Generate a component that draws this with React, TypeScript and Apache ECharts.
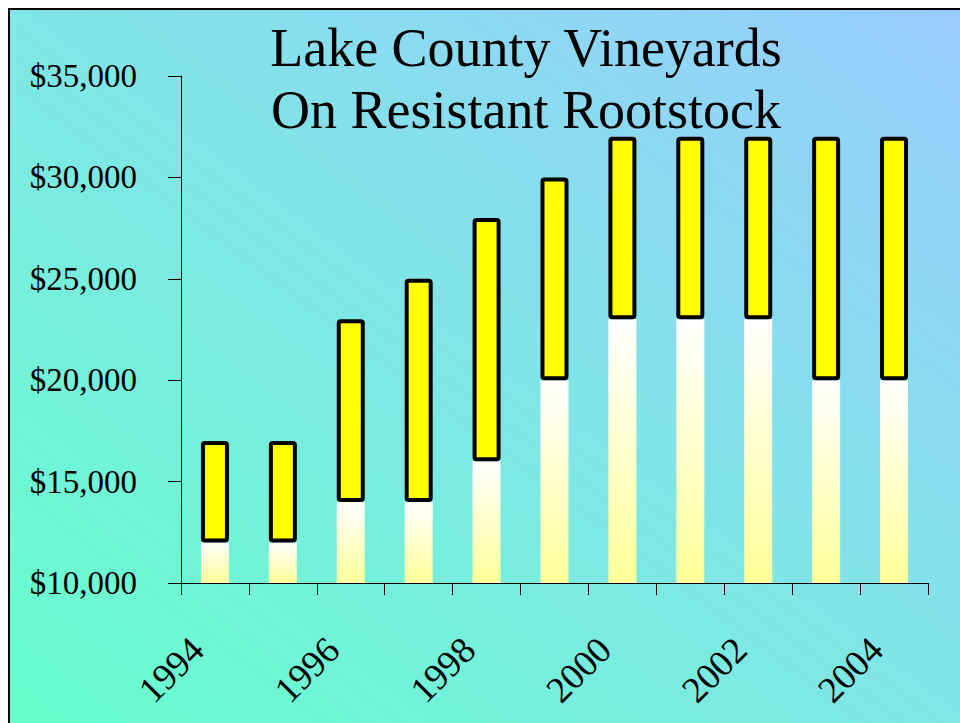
import React, { useEffect, useRef } from "react";
import * as echarts from "echarts";

const YEARS = ["1994", "1995", "1996", "1997", "1998", "1999", "2000", "2001", "2002", "2003", "2004"];
const LOW = [12000, 12000, 14000, 14000, 16000, 20000, 23000, 23000, 23000, 20000, 20000];
const HIGH = [17000, 17000, 23000, 25000, 28000, 30000, 32000, 32000, 32000, 32000, 32000];
const Y_MIN = 10000;
const Y_MAX = 35000;
const Y_STEP = 5000;
const TITLE = "Lake County Vineyards\nOn Resistant Rootstock";

const FONT = '"Liberation Serif", "Times New Roman", serif';

export default function App() {
  const ref = useRef<HTMLDivElement>(null);
  useEffect(() => {
    if (!ref.current) return;
    const chart = echarts.init(ref.current, undefined, { renderer: "svg" });
    const base = YEARS.map(() => Y_MIN);
    const lowPart = LOW.map((v) => v - Y_MIN);
    const highPart = HIGH.map((v, i) => v - LOW[i]);
    chart.setOption({
      animation: false,
      backgroundColor: new echarts.graphic.LinearGradient(0, 1, 1, 0, [
        { offset: 0, color: "#66FFCC" },
        { offset: 1, color: "#99CCFF" },
      ]),
      grid: { left: 171, right: 32, top: 66, bottom: 140, containLabel: false },
      graphic: [
        {
          type: "text",
          x: 516,
          y: 7,
          silent: true,
          style: {
            text: TITLE,
            align: "center",
            verticalAlign: "top",
            fontFamily: FONT,
            fontSize: 54,
            lineHeight: 62,
            fill: "#000",
          },
        },
      ],
      xAxis: {
        type: "category",
        data: YEARS,
        axisLine: { show: true, lineStyle: { color: "#000", width: 1 } },
        axisTick: { show: true, interval: 0, length: 12, lineStyle: { color: "#000" } },
        axisLabel: {
          interval: 1,
          rotate: 45,
          margin: 43,
          padding: [0, 25, 0, 0],
          fontFamily: FONT,
          fontSize: 37,
          color: "#000",
        },
        splitLine: { show: false },
      },
      yAxis: {
        type: "value",
        min: Y_MIN,
        max: Y_MAX,
        interval: Y_STEP,
        axisLine: { show: true, lineStyle: { color: "#000", width: 1 } },
        axisTick: { show: true, length: 13, lineStyle: { color: "#000" } },
        axisLabel: {
          margin: 44,
          fontFamily: FONT,
          fontSize: 33,
          color: "#000",
          formatter: (v: number) => "$" + v.toLocaleString("en-US"),
        },
        splitLine: { show: false },
      },
      series: [
        {
          name: "base",
          type: "bar",
          stack: "a",
          barWidth: 28,
          silent: true,
          data: base,
          itemStyle: { color: "rgba(0,0,0,0)" },
        },
        {
          name: "low",
          type: "bar",
          stack: "a",
          barWidth: 28,
          silent: true,
          data: lowPart,
          itemStyle: {
            color: new echarts.graphic.LinearGradient(0, 0, 0, 1, [
              { offset: 0, color: "#FFFFFF" },
              { offset: 1, color: "#FFFF99" },
            ]),
          },
        },
        {
          name: "high",
          type: "bar",
          stack: "a",
          barWidth: 28,
          silent: true,
          data: highPart,
          itemStyle: {
            color: "#FFFF00",
            borderColor: "#000",
            borderWidth: 4,
            borderRadius: 2,
          },
        },
      ],
    });
    return () => chart.dispose();
  }, []);
  return (
    <div
      style={{
        position: "fixed",
        left: 8,
        top: 8,
        width: 952,
        height: 715,
        borderLeft: "2px solid #000",
        borderTop: "2px solid #000",
        boxSizing: "border-box",
        overflow: "hidden",
      }}
    >
      <div ref={ref} style={{ width: 950, height: 713 }} />
    </div>
  );
}
